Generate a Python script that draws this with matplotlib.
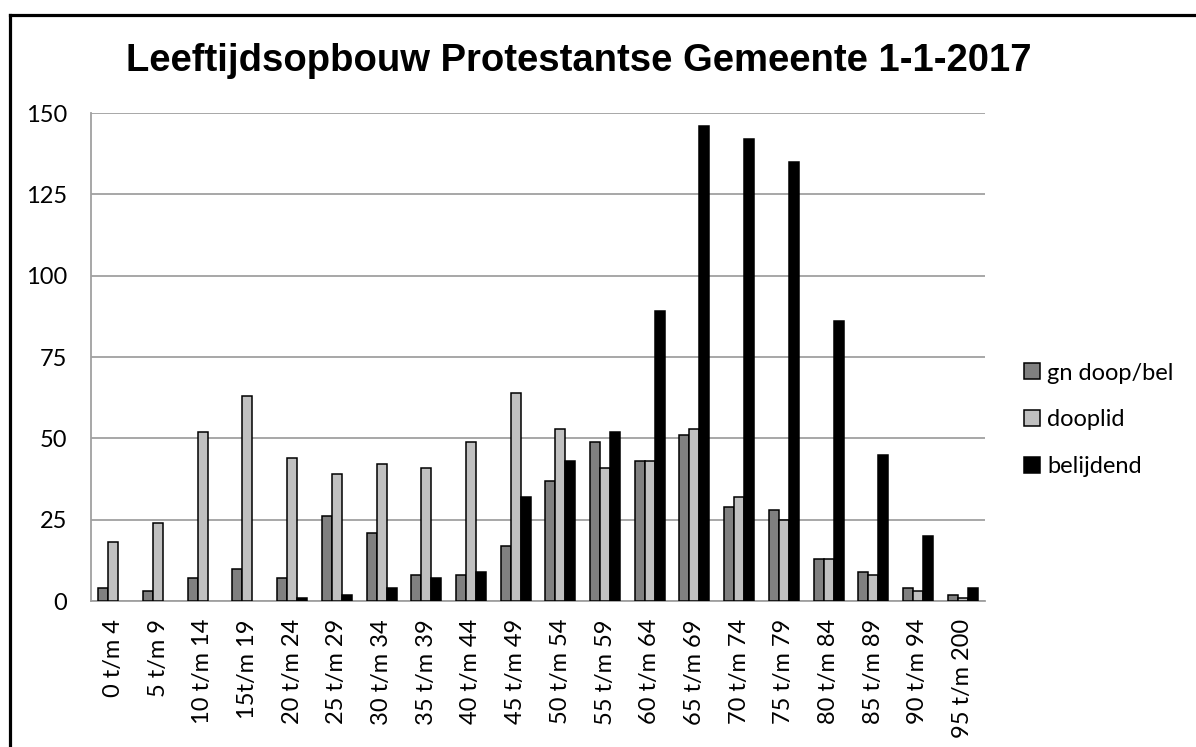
import numpy as np
import matplotlib.pyplot as plt
from matplotlib.lines import Line2D

categories = ["0 t/m 4", "5 t/m 9", "10 t/m 14", "15t/m 19", "20 t/m 24", "25 t/m 29",
              "30 t/m 34", "35 t/m 39", "40 t/m 44", "45 t/m 49", "50 t/m 54", "55 t/m 59",
              "60 t/m 64", "65 t/m 69", "70 t/m 74", "75 t/m 79", "80 t/m 84", "85 t/m 89",
              "90 t/m 94", "95 t/m 200"]
gn_doop_bel = [4, 3, 7, 10, 7, 26, 21, 8, 8, 17, 37, 49, 43, 51, 29, 28, 13, 9, 4, 2]
dooplid = [18, 24, 52, 63, 44, 39, 42, 41, 49, 64, 53, 41, 43, 53, 32, 25, 13, 8, 3, 1]
belijdend = [0, 0, 0, 0, 1, 2, 4, 7, 9, 32, 43, 52, 89, 146, 142, 135, 86, 45, 20, 4]
y_ticks = [0, 25, 50, 75, 100, 125, 150]

plt.rcParams['font.family'] = ['Lato', 'DejaVu Sans']

fig = plt.figure(figsize=(11.96, 7.47), dpi=100)
# border of the chart area (only top and left edges fall inside the picture)
top_y = 1 - 15.3 / 747
left_x = 9.5 / 1196
fig.lines.append(Line2D([left_x, 1.0], [top_y, top_y], transform=fig.transFigure,
                        color='black', linewidth=2.3))
fig.lines.append(Line2D([left_x, left_x], [0.0, top_y], transform=fig.transFigure,
                        color='black', linewidth=2.3))

ax = fig.add_axes([0.0761, 0.1954, 0.7475, 0.6533])

x = np.arange(len(categories))
w = 0.224
series = [("gn doop/bel", gn_doop_bel, '#808080'),
          ("dooplid", dooplid, '#c0c0c0'),
          ("belijdend", belijdend, '#000000')]
for i, (label, vals, color) in enumerate(series):
    # no outline on empty bars, so nothing shows at the baseline
    lw = [1.1 if v > 0 else 0 for v in vals]
    ax.bar(x + (i - 1) * w, vals, width=w, color=color, edgecolor='black',
           linewidth=lw, label=label, zorder=3)

ax.set_xlim(-0.5, len(categories) - 0.5)
ax.set_ylim(0, 150)
ax.set_yticks(y_ticks)
ax.set_xticks(x)
ax.set_xticklabels(categories, rotation=90, fontsize=17)
ax.tick_params(axis='y', labelsize=17, length=0, pad=17)
ax.tick_params(axis='x', length=0, pad=13)
ax.grid(axis='y', color='#a0a0a0', linewidth=1.3, zorder=0)
for s in ['top', 'right']:
    ax.spines[s].set_visible(False)
for s in ['left', 'bottom']:
    ax.spines[s].set_color('#a0a0a0')
    ax.spines[s].set_linewidth(1.3)

fig.text(0.484, 1 - 71 / 747, "Leeftijdsopbouw Protestantse Gemeente 1-1-2017",
         ha='center', va='baseline', fontsize=27.5, fontweight='bold',
         family=['Liberation Sans', 'DejaVu Sans'])

leg = ax.legend(loc='center left', bbox_to_anchor=(1024 / 1196, 1 - 420 / 747),
                bbox_transform=fig.transFigure, frameon=False, borderpad=0, borderaxespad=0,
                fontsize=17, labelspacing=1.1, handlelength=0.68, handleheight=0.68,
                handletextpad=0.3)
for h in leg.legend_handles:
    h.set_linewidth(1.1)

fig.savefig("out.png", dpi=100)
